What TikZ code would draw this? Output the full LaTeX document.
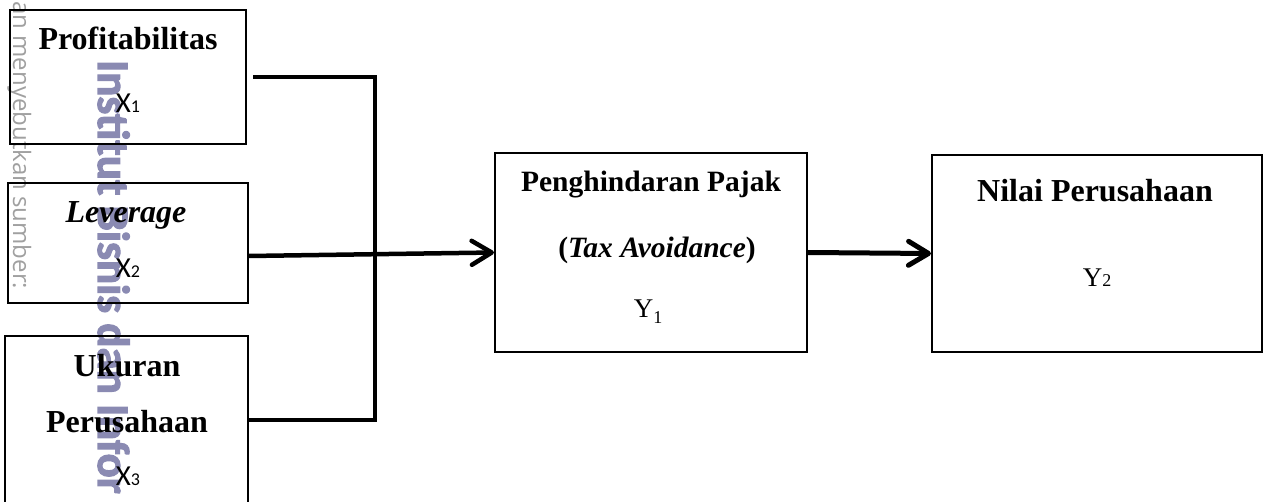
\documentclass[tikz,border=0pt]{standalone}
\usepackage{fontspec}
\setmainfont{Liberation Serif}
\newfontfamily\calfont{Carlito}
\newfontfamily\markfont[BoldFeatures={FakeBold=2.5}]{Carlito}
\newfontfamily\edgefont{Open Sans}
\usetikzlibrary{arrows.meta}
\definecolor{wmark}{RGB}{138,138,178}
\definecolor{edgegray}{RGB}{160,160,160}
\newcommand{\smallsub}[1]{{\fontsize{18}{20}\selectfont #1}}

\begin{document}
\begin{tikzpicture}[x=1pt,y=-1pt,
  box/.style={draw, line width=2pt, rectangle, inner sep=0pt},
  title/.style={anchor=base, inner sep=0pt, font=\bfseries\fontsize{32}{38}\selectfont},
  var/.style={anchor=base, inner sep=0pt, font=\calfont\fontsize{29}{32}\selectfont},
  yvar/.style={anchor=base, inner sep=0pt, font=\fontsize{27}{30}\selectfont},
  link/.style={draw, line width=4pt, line join=miter},
  tip/.style={-{Straight Barb[length=20pt,width=24pt,round]}}]
\useasboundingbox (0,0) rectangle (1263,502);
\clip (0,0) rectangle (1263,502);

% watermark and margin text
\node[anchor=base west, inner sep=0pt, rotate=-90, text=wmark,
  font=\markfont\bfseries\fontsize{45}{50}\selectfont] (mark) at (98,60) {Institut Bisnis dan Infor};
\node[anchor=base west, inner sep=0pt, rotate=-90, text=edgegray,
  font=\edgefont\fontsize{24}{28}\selectfont] (margin) at (13,1) {an menyebutkan sumber:};

% boxes
\node[box, minimum width=236pt, minimum height=134pt] (prof) at (128,77) {};
\node[box, minimum width=240pt, minimum height=120pt] (lev) at (128,243) {};
\node[box, minimum width=243pt, minimum height=168pt] (ukur) at (126.5,420) {};
\node[box, minimum width=312pt, minimum height=199pt] (pajak) at (651,252.5) {};
\node[box, minimum width=330pt, minimum height=197pt] (nilai) at (1097,253.5) {};

% texts
\node[title] (proft) at (128,50) {Profitabilitas};
\node[var] (x1) at (128,113) {X\smallsub{1}};
\node[title] (levt) at (126,223) {\itshape Leverage};
\node[var] (x2) at (128,278) {X\smallsub{2}};
\node[title] (ukurt) at (127,377) {Ukuran};
\node[title] (perust) at (127,432) {Perusahaan};
\node[var] (x3) at (128,485) {X\smallsub{3}};
\node[title, font=\bfseries\fontsize{29.5}{34}\selectfont] (pajakt) at (651,192) {Penghindaran Pajak};
\node[title, font=\bfseries\fontsize{29.5}{34}\selectfont] (taxt) at (657,258) {(\textit{Tax Avoidance})};
\node[yvar] (y1) at (648,318) {Y\smallsub{\raisebox{-6pt}{1}}};
\node[title] (nilait) at (1095,202) {Nilai Perusahaan};
\node[yvar] (y2) at (1097,287) {Y\smallsub{2}};

% connectors
\coordinate (join) at (375,254);
\draw[link] ([xshift=6pt]prof.east) -| (join) |- (ukur.east);
\draw[link, tip, line width=4.5pt] ([yshift=-13pt]lev.east) -- (pajak.west);
\draw[link, tip, line width=5pt] (pajak.east) -- (nilai.west);
\end{tikzpicture}
\end{document}
